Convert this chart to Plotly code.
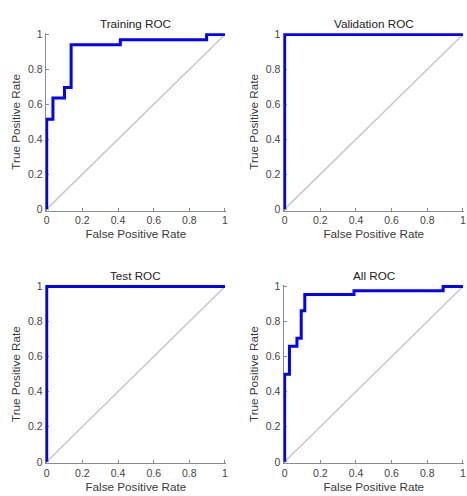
import plotly.graph_objects as go

W, H = 467, 496

titles = ["Training ROC", "Validation ROC", "Test ROC", "All ROC"]

train_fpr = [0, 0, 0.035, 0.035, 0.10, 0.10, 0.137, 0.137, 0.413, 0.413, 0.897, 0.897, 1.0]
train_tpr = [0, 0.515, 0.515, 0.636, 0.636, 0.697, 0.697, 0.941, 0.941, 0.970, 0.970, 1.0, 1.0]

val_fpr = [0, 0, 1.0]
val_tpr = [0, 1.0, 1.0]

test_fpr = [0, 0, 1.0]
test_tpr = [0, 1.0, 1.0]

all_fpr = [0, 0, 0.027, 0.027, 0.069, 0.069, 0.093, 0.093, 0.113, 0.113, 0.389, 0.389, 0.889, 0.889, 1.0]
all_tpr = [0, 0.499, 0.499, 0.659, 0.659, 0.705, 0.705, 0.862, 0.862, 0.954, 0.954, 0.976, 0.976, 1.0, 1.0]

diag = [0, 1]
tick_vals = [0, 0.2, 0.4, 0.6, 0.8, 1]
tick_text = ["0", "0.2", "0.4", "0.6", "0.8", "1"]

curves = [(train_fpr, train_tpr), (val_fpr, val_tpr), (test_fpr, test_tpr), (all_fpr, all_tpr)]

# pixel boxes (left, right, top, bottom)
boxes = [(44, 226, 28.7, 209.3), (284, 466, 28.7, 209.3),
         (44, 226, 285.3, 466.7), (284, 466, 285.3, 466.7)]

FONT = "Liberation Sans, Arial, sans-serif"
fig = go.Figure()
annotations = []
for i, ((fx, fy), (l, r, t, b)) in enumerate(zip(curves, boxes)):
    n = "" if i == 0 else str(i + 1)
    xa, ya = "x" + n, "y" + n
    fig.add_trace(go.Scatter(x=diag, y=diag, mode="lines", xaxis=xa, yaxis=ya,
                             line=dict(color="#c8c8c8", width=1.5), hoverinfo="skip", showlegend=False))
    fig.add_trace(go.Scatter(x=fx, y=fy, mode="lines", xaxis=xa, yaxis=ya,
                             line=dict(color="#0000ff", width=3), showlegend=False))
    axcommon = dict(showgrid=False, zeroline=False, showline=True, linecolor="#8c8c8c", linewidth=1,
                    ticks="inside", ticklen=3, tickcolor="#8c8c8c", tickvals=tick_vals, ticktext=tick_text,
                    tickfont=dict(family=FONT, size=10.5, color="#444444"), layer="below traces",
                    fixedrange=True)
    fig.layout["xaxis" + n] = dict(axcommon, domain=[l / W, r / W], range=[-0.006, 1.006], anchor=ya,
                                   title=dict(text="False Positive Rate", standoff=4,
                                              font=dict(family=FONT, size=11.7, color="#3a3a3a")))
    fig.layout["yaxis" + n] = dict(axcommon, domain=[1 - b / H, 1 - t / H], range=[-0.008, 1.008], anchor=xa,
                                   title=dict(text="True Positive Rate", standoff=4,
                                              font=dict(family=FONT, size=11.7, color="#3a3a3a")))
    annotations.append(dict(text=titles[i], x=(l + r) / 2 / W, y=1 - (t - 9.5) / H, xref="paper", yref="paper",
                            xanchor="center", yanchor="middle", showarrow=False,
                            font=dict(family=FONT, size=11.7, color="#222222")))

fig.update_layout(width=W, height=H, margin=dict(l=0, r=0, t=0, b=0),
                  paper_bgcolor="white", plot_bgcolor="white", annotations=annotations)
fig.write_html("out.html", config={"displayModeBar": False},
               post_script="document.body.style.margin='0';document.body.style.overflow='hidden';")
